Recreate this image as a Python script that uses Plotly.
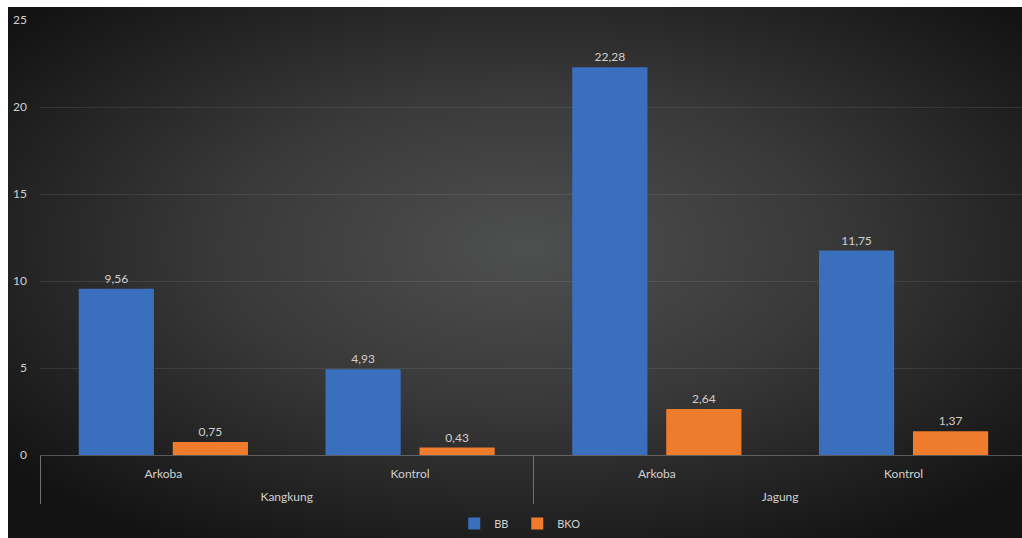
import base64
import plotly.graph_objects as go

# Data
groups = ["Kangkung", "Kangkung", "Jagung", "Jagung"]
treatments = ["Arkoba", "Kontrol", "Arkoba", "Kontrol"]
bb_values = [9.56, 4.93, 22.28, 11.75]
bko_values = [0.75, 0.43, 2.64, 1.37]
bb_labels = ["9,56", "4,93", "22,28", "11,75"]
bko_labels = ["0,75", "0,43", "2,64", "1,37"]
y_ticks = [0, 5, 10, 15, 20, 25]

W, H = 1022, 538
ML, MR, MT, MB = 40, 0, 20, 83
pw = W - ML - MR
ph = H - MT - MB

svg = f'''<svg xmlns="http://www.w3.org/2000/svg" width="{W}" height="{H}" viewBox="0 0 {W} {H}" preserveAspectRatio="none">
<defs><radialGradient id="g" cx="0.5" cy="0.45" r="0.65" gradientUnits="objectBoundingBox">
<stop offset="0" stop-color="#4e4f4f"/>
<stop offset="0.45" stop-color="#393939"/>
<stop offset="1" stop-color="#121212"/>
</radialGradient></defs>
<rect width="{W}" height="{H}" fill="url(#g)"/></svg>'''
src = "data:image/svg+xml;base64," + base64.b64encode(svg.encode()).decode()

font = "Lato, 'Open Sans', sans-serif"
txt = "#d0d0d0"

# level-1 labels get an extra blank line so that the group labels sit lower
tick_treat = [t + "<br> " for t in treatments]

fig = go.Figure()
fig.add_trace(go.Bar(
    name="BB", x=[groups, tick_treat], y=bb_values,
    text=bb_labels, textposition="outside",
    textfont=dict(color=txt, size=12, family=font),
    marker=dict(color="#3a6fbd", line=dict(width=0)),
    cliponaxis=False,
))
fig.add_trace(go.Bar(
    name="BKO", x=[groups, tick_treat], y=bko_values,
    text=bko_labels, textposition="outside",
    textfont=dict(color=txt, size=12, family=font),
    marker=dict(color="#ef7b2d", line=dict(width=0)),
    cliponaxis=False,
))

x0 = (8 - ML) / pw
y_top = (H - MB - 7) / ph
y_bot = (H - MB - H - 5) / ph
fig.add_layout_image(dict(
    source=src, xref="paper", yref="paper",
    x=x0, y=y_top, sizex=1.02 - x0, sizey=y_top - y_bot,
    xanchor="left", yanchor="top", sizing="stretch", layer="below",
))

fig.update_layout(
    width=W, height=H,
    margin=dict(l=ML, r=MR, t=MT, b=MB, autoexpand=False),
    paper_bgcolor="white",
    plot_bgcolor="rgba(0,0,0,0)",
    barmode="group", bargap=0.238, bargroupgap=0.2,
    font=dict(family=font, color=txt, size=12),
    showlegend=True,
    legend=dict(orientation="h", x=0.486, xanchor="center",
                yref="container", y=0.0, yanchor="bottom",
                font=dict(size=11, color=txt), bgcolor="rgba(0,0,0,0)",
                itemwidth=30, entrywidth=18, traceorder="normal"),
)
fig.update_xaxes(
    type="multicategory", range=[-0.5, 3.48], automargin=False,
    showgrid=False, showline=False, ticks="",
    showdividers=True, dividercolor="#707070", dividerwidth=1,
    ticklabelstandoff=10,
    tickfont=dict(size=12, color=txt, family=font),
)
fig.update_yaxes(
    range=[0, 25], tickvals=y_ticks, ticktext=[str(v) for v in y_ticks],
    automargin=False,
    showgrid=True, gridcolor="rgba(255,255,255,0.09)", gridwidth=1,
    zeroline=True, zerolinecolor="rgba(200,200,200,0.35)", zerolinewidth=1,
    showline=False, ticks="", ticklabelstandoff=12,
    tickfont=dict(size=12, color=txt, family=font),
)

fig.write_html("out.html")
